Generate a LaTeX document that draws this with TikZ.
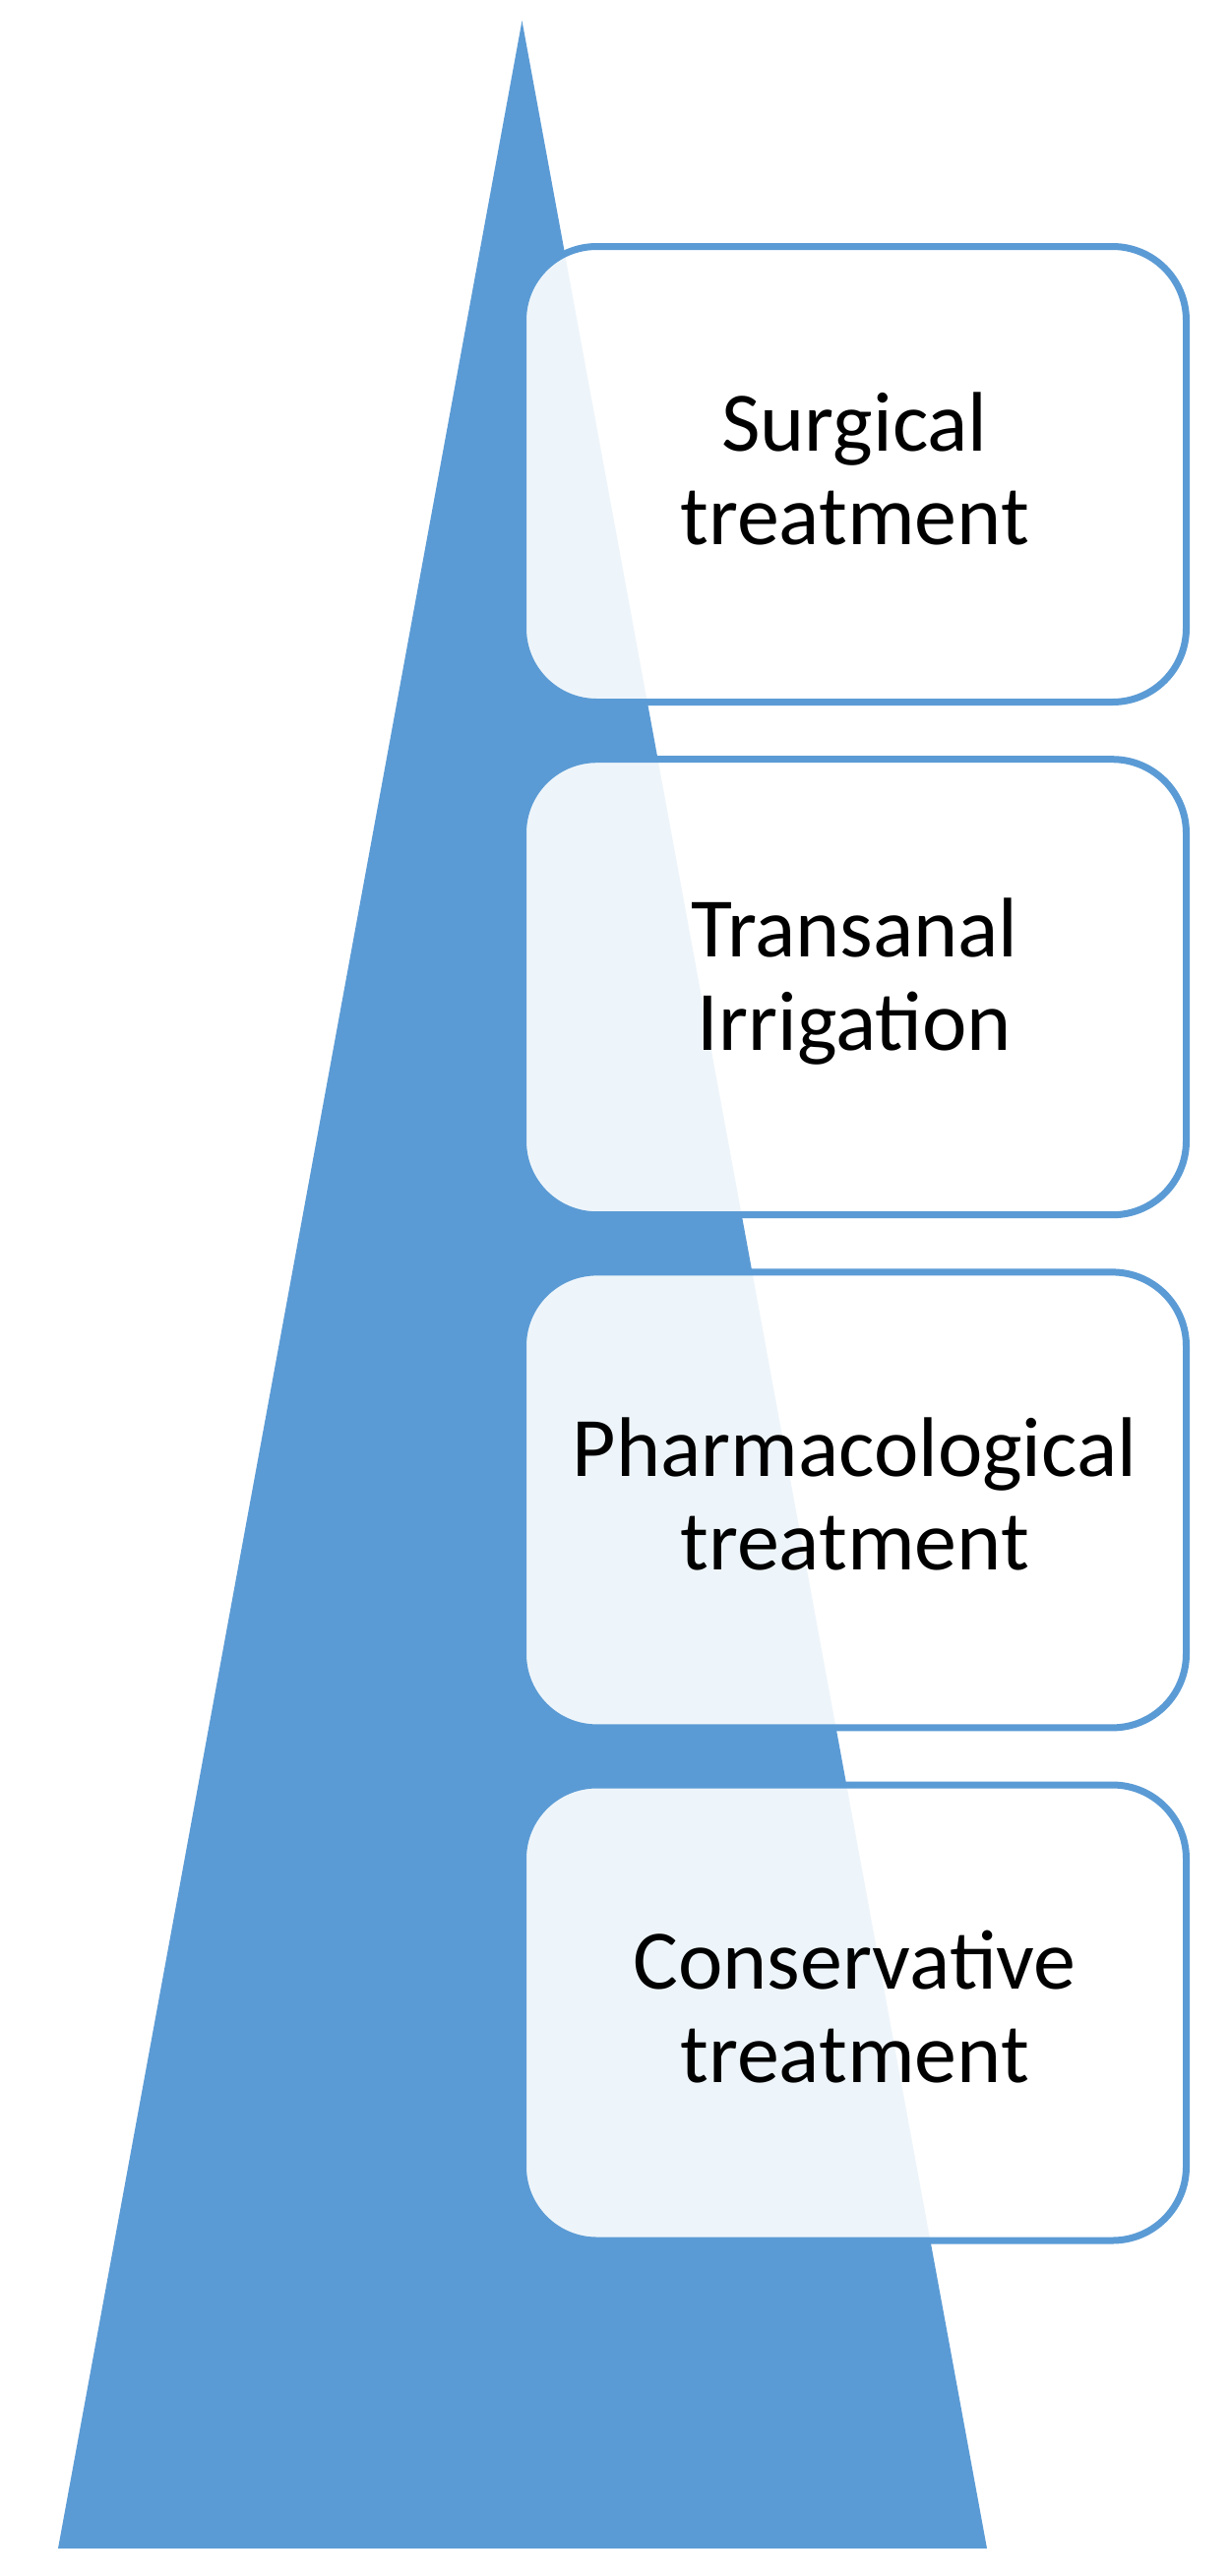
\documentclass[tikz,border=0pt]{standalone}
\usepackage{fontspec}
\setmainfont{Carlito}
\definecolor{triblue}{HTML}{5B9BD5}
\tikzset{
  levelbox/.style={draw=triblue, line width=3.5pt, rounded corners=37.5pt,
    fill=white, fill opacity=0.9, text opacity=1, text=black,
    minimum width=337pt, minimum height=231.5pt, inner sep=0pt,
    align=center, font=\fontsize{43}{47.5}\selectfont},
  pyramid/.style={fill=triblue, draw=none},
  boxtext/.style={text=black, align=center, inner sep=0pt, yshift=3pt,
    font=\fontsize{43}{47.5}\selectfont}
}
\begin{document}
\begin{tikzpicture}[x=0.5pt,y=-0.5pt]
\useasboundingbox (0,0) rectangle (1251,2618);
\fill[white] (0,0) rectangle (1251,2618);
\coordinate (apex) at (530.5,21);
\coordinate (bl) at (59,2590);
\coordinate (br) at (1003,2590);
\path[pyramid] (apex) -- (bl) -- (br) -- cycle;
\node[levelbox] (surg) at (868.5,482) {};
\node[levelbox] (tai) at (868.5,1003.2) {};
\node[levelbox] (pharm) at (868.5,1524.4) {};
\node[levelbox] (cons) at (868.5,2045.5) {};
\node[boxtext] (surgt) at (surg.center) {Surgical\\treatment};
\node[boxtext] (tait) at (tai.center) {Transanal\\Irrigation};
\node[boxtext] (pharmt) at (pharm.center) {Pharmacological\\treatment};
\node[boxtext] (const) at (cons.center) {Conservative\\treatment};
\end{tikzpicture}
\end{document}
